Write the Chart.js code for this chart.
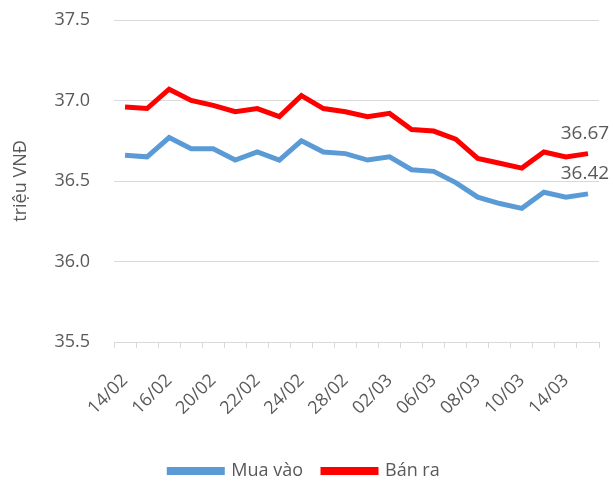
<!DOCTYPE html>
<html>
<head>
<meta charset="utf-8">
<script src="https://cdn.jsdelivr.net/npm/chart.js@4"></script>
<style>
  html, body { margin: 0; padding: 0; background: #fff; }
  #wrap { width: 613px; height: 483px; }
</style>
</head>
<body>
<div id="wrap"><canvas id="goldChart"></canvas></div>
<script>
// ---------- DATA ----------
const days = [
    "14/02", "15/02", "16/02", "17/02", "20/02", "21/02", "22/02", "23/02", "24/02", "27/02", "28/02",
    "01/03", "02/03", "03/03", "06/03", "07/03", "08/03", "09/03", "10/03", "13/03", "14/03", "15/03"
];
const buyPrices = [
    36.66, 36.65, 36.77, 36.70, 36.70, 36.63, 36.68, 36.63, 36.75, 36.68, 36.67,
    36.63, 36.65, 36.57, 36.56, 36.49, 36.40, 36.36, 36.33, 36.43, 36.40, 36.42
];
const sellPrices = [
    36.96, 36.95, 37.07, 37.00, 36.97, 36.93, 36.95, 36.90, 37.03, 36.95, 36.93,
    36.90, 36.92, 36.82, 36.81, 36.76, 36.64, 36.61, 36.58, 36.68, 36.65, 36.67
];
const seriesNames = ["Mua vào", "Bán ra"];
const yTitle = "triệu VNĐ";

const TEXT = "#595959";
const GRID = "#D9D9D9";
const FONT = "'Open Sans', 'Noto Sans', sans-serif";

// label on the last point of each line
const lastValueLabels = {
    id: "lastValueLabels",
    afterDatasetsDraw(chart) {
        const ctx = chart.ctx;
        ctx.save();
        ctx.font = "19px " + FONT;
        ctx.fillStyle = TEXT;
        ctx.textAlign = "center";
        ctx.textBaseline = "middle";
        chart.data.datasets.forEach((ds, i) => {
            const pts = chart.getDatasetMeta(i).data;
            const p = pts[pts.length - 1];
            ctx.fillText(ds.data[ds.data.length - 1].toFixed(2), p.x - 3, p.y - 20);
        });
        ctx.restore();
    }
};

new Chart(document.getElementById("goldChart"), {
    type: "line",
    data: {
        labels: days,
        datasets: [
            {
                label: seriesNames[0],
                data: buyPrices,
                borderColor: "#5B9BD5",
                backgroundColor: "#5B9BD5",
                borderWidth: 5,
                pointRadius: 0,
                tension: 0
            },
            {
                label: seriesNames[1],
                data: sellPrices,
                borderColor: "#FF0000",
                backgroundColor: "#FF0000",
                borderWidth: 5,
                pointRadius: 0,
                tension: 0
            }
        ]
    },
    options: {
        responsive: true,
        maintainAspectRatio: false,
        animation: false,
        layout: { padding: { top: 20, right: 14, left: 10, bottom: -7 } },
        plugins: {
            legend: {
                position: "bottom",
                labels: {
                    boxWidth: 53,
                    boxHeight: 3,
                    padding: 20,
                    color: TEXT,
                    font: { family: FONT, size: 18 }
                }
            },
            tooltip: { enabled: false }
        },
        scales: {
            x: {
                offset: true,
                grid: {
                    offset: true,
                    drawOnChartArea: false,
                    drawTicks: true,
                    tickLength: 6,
                    color: GRID,
                    lineWidth: 1
                },
                border: { color: GRID, width: 1 },
                ticks: {
                    autoSkip: false,
                    maxRotation: 45,
                    minRotation: 45,
                    padding: 22,
                    color: TEXT,
                    font: { family: FONT, size: 18 },
                    callback: function (v, i) { return i % 2 === 0 ? this.getLabelForValue(v) : ""; }
                },
                afterFit: s => {
                    s.height = 100;
                    s.paddingLeft = 0;
                    s.paddingRight = 0;
                }
            },
            y: {
                min: 35.5,
                max: 37.5,
                ticks: {
                    stepSize: 0.5,
                    padding: 24,
                    color: TEXT,
                    font: { family: FONT, size: 18 },
                    callback: v => v.toFixed(1)
                },
                grid: { color: GRID, lineWidth: 1, drawTicks: false },
                border: { display: false },
                title: {
                    display: true,
                    text: yTitle,
                    color: TEXT,
                    font: { family: FONT, size: 18 },
                    padding: 0
                },
                afterFit: s => {
                    s.width = 104;
                    s.paddingTop = 0;
                    s.paddingBottom = 0;
                }
            }
        }
    },
    plugins: [lastValueLabels]
});
</script>
</body>
</html>
